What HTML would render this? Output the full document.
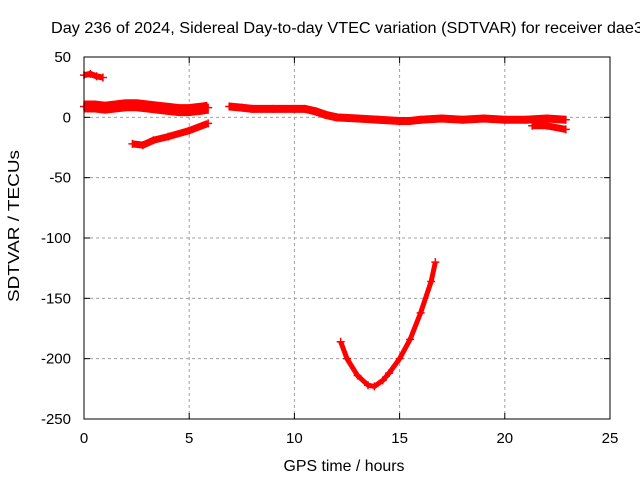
<!DOCTYPE html>
<html><head><meta charset="utf-8"><style>
body{margin:0;background:#fff}
svg{display:block;font-family:"Liberation Sans",sans-serif}
</style></head><body>
<svg id="chart" width="640" height="480" viewBox="0 0 640 480">
<text x="51" y="33" font-size="16" fill="#000" textLength="592" lengthAdjust="spacingAndGlyphs">Day 236 of 2024, Sidereal Day-to-day VTEC variation (SDTVAR) for receiver dae3</text>
<g id="grid"></g>
<g id="axes"></g>
<g id="series"></g>
<rect x="84" y="57" width="526" height="362" fill="none" stroke="#000" stroke-width="1"/>
<text x="344" y="471" font-size="16" text-anchor="middle" textLength="121" lengthAdjust="spacingAndGlyphs">GPS time / hours</text>
<text transform="translate(19,226) rotate(-90)" font-size="16" text-anchor="middle" textLength="152" lengthAdjust="spacingAndGlyphs">SDTVAR / TECUs</text>
</svg>
<script>
const xTicks=[0,5,10,15,20,25];
const yTicks=[50,0,-50,-100,-150,-200,-250];
const sA_x=[0,0.3,0.6,0.9];
const sA_y=[35,36,34,33];
const sB_x=[0,0.5,1,1.5,2,2.5,3,3.5,4,4.5,5,5.5,5.9];
const sB_y=[9,9,8,9,10,10,9,8,7,6,6,7,8];
const sC_x=[2.3,2.8,3.3,4,5,5.9];
const sC_y=[-22,-23,-19,-16,-11,-5];
const sD_x=[6.9,7.5,8,9,10,10.5,11,11.5,12,13,14,15,15.5,16,17,18,19,20,21,22,22.9];
const sD_y=[9,8,7,7,7,7,5,2,0,-1,-2,-3,-3,-2,-1,-2,-1,-2,-2,-1,-2];
const sE_x=[21.3,22,22.9];
const sE_y=[-7,-7,-10];
const sF_x=[12.2,12.5,13,13.5,13.8,14.2,14.5,15,15.5,16,16.5,16.7];
const sF_y=[-186,-200,-214,-222,-223,-218,-212,-200,-184,-162,-136,-120];
const NS='http://www.w3.org/2000/svg';
const X0=84,X1=610,Y0=57,Y1=419;
function sx(v){return X0+(v-0)/(25-0)*(X1-X0);}
function sy(v){return Y0+(50-v)/(300)*(Y1-Y0);}
function mk(tag,attrs,parent){const e=document.createElementNS(NS,tag);for(const k in attrs)e.setAttribute(k,attrs[k]);parent.appendChild(e);return e;}
const grid=document.getElementById('grid'),axes=document.getElementById('axes'),ser=document.getElementById('series');
xTicks.forEach(t=>{const x=sx(t);
 if(t>0&&t<25){const l=mk('line',{x1:x,y1:Y0,x2:x,y2:Y1,stroke:'#a0a0a0','stroke-dasharray':'3,3'},grid);
 
 }
 mk('line',{x1:x,y1:Y1,x2:x,y2:Y1-6,stroke:'#000'},axes);mk('line',{x1:x,y1:Y0,x2:x,y2:Y0+6,stroke:'#000'},axes);
 const tx=mk('text',{x:x,y:Y1+24,'font-size':15,'text-anchor':'middle'},axes);tx.textContent=t;
 
 
});
yTicks.forEach(t=>{const y=sy(t);
 if(t<50&&t>-250){const l=mk('line',{x1:X0,y1:y,x2:X1,y2:y,stroke:'#a0a0a0','stroke-dasharray':'3,3'},grid);
 
 }
 mk('line',{x1:X0,y1:y,x2:X0+6,y2:y,stroke:'#000'},axes);mk('line',{x1:X1,y1:y,x2:X1-6,y2:y,stroke:'#000'},axes);
 const tx=mk('text',{x:X0-13,y:y+5,'font-size':15,'text-anchor':'end'},axes);tx.textContent=t;
 
 
});
const seriesList=[[sA_x,sA_y,6,'series-a'],[sB_x,sB_y,12,'series-b'],[sC_x,sC_y,7,'series-c'],[sD_x,sD_y,8,'series-d'],[sE_x,sE_y,7,'series-e'],[sF_x,sF_y,5,'series-f']];
seriesList.forEach(s=>{const pts=s[0].map((v,i)=>sx(v)+','+sy(s[1][i])).join(' ');
 const p=mk('polyline',{points:pts,fill:'none',stroke:'#ff0000','stroke-width':s[2],'stroke-linejoin':'round'},ser);
 
 
 s[0].forEach((v,i)=>{const x=sx(v),y=sy(s[1][i]);
  const m=mk('path',{d:`M${x-4},${y}H${x+4}M${x},${y-4}V${y+4}`,stroke:'#ff0000','stroke-width':1.5},ser);
  
  
 });
});
</script>
</body></html>
